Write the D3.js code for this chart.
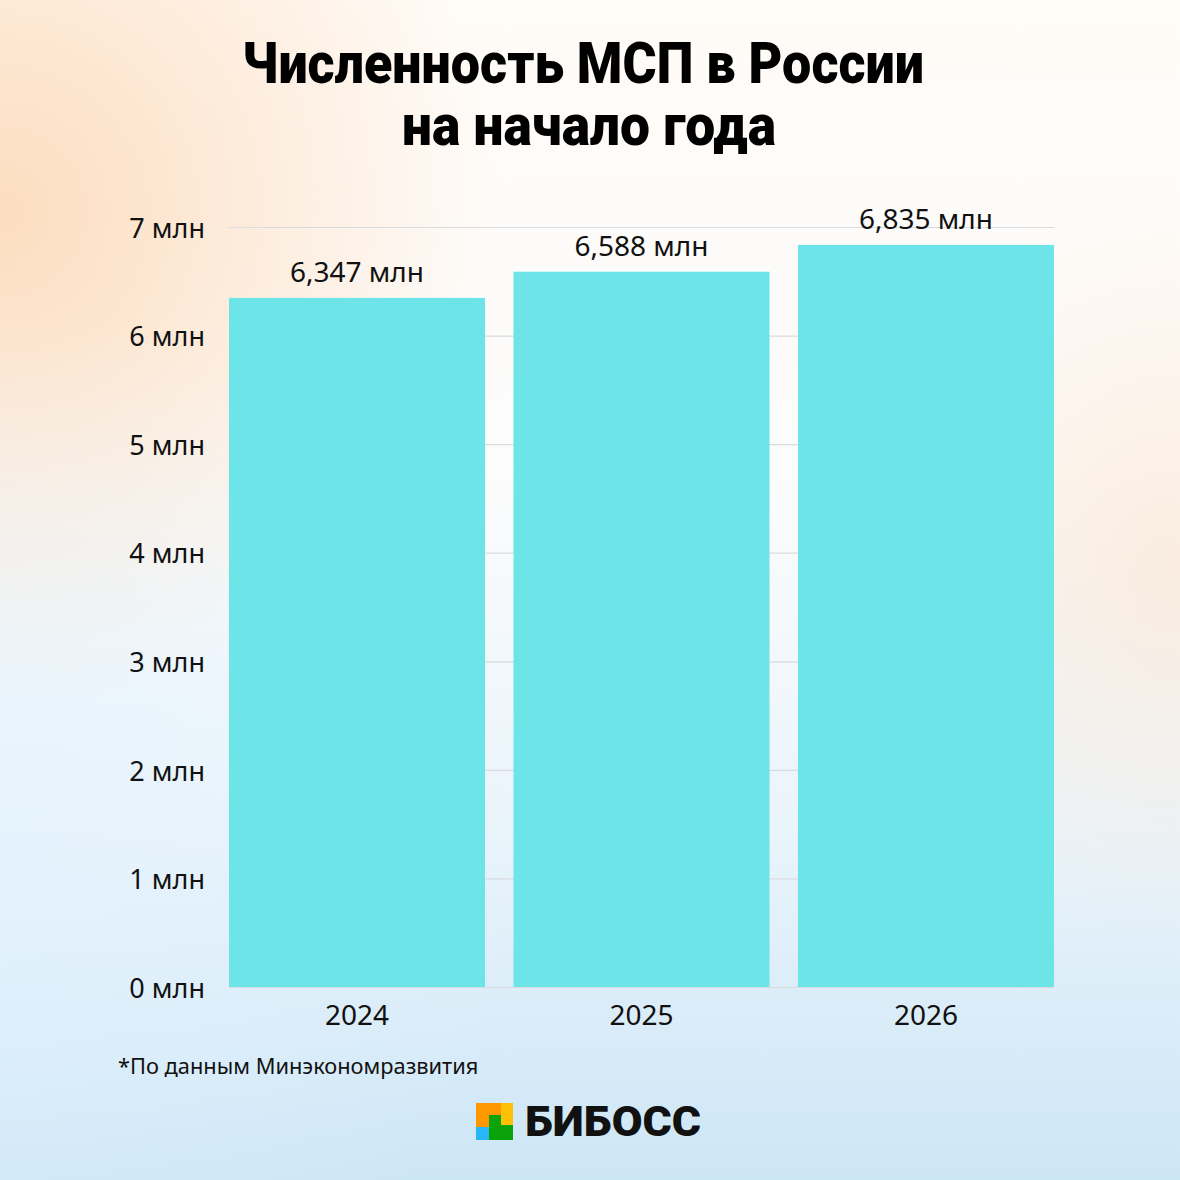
<!DOCTYPE html>
<html><head><meta charset="utf-8">
<script src="https://cdn.jsdelivr.net/npm/d3@7"></script>
<style>html,body{margin:0;padding:0;background:#fff;}svg{display:block;}</style>
</head><body>
<svg id="chart" width="1180" height="1180"></svg>
<script>
const years = ["2024", "2025", "2026"];
const values = [6.347, 6.588, 6.835];
const valueLabels = ["6,347 млн", "6,588 млн", "6,835 млн"];
const yTicks = [0, 1, 2, 3, 4, 5, 6, 7];
const titleLines = ["Численность МСП в России", "на начало года"];
const footnote = "*По данным Минэкономразвития";
const brand = "БИБОСС";

(function(){
const W = 1180, H = 1180;
const svg = d3.select("#chart");
const defs = svg.append("defs");

const lg = defs.append("linearGradient").attr("id","bg").attr("x1",0).attr("y1",0).attr("x2",0).attr("y2",1);
lg.append("stop").attr("offset","0%").attr("stop-color","#fffbf7");
lg.append("stop").attr("offset","40%").attr("stop-color","#fcfcfc");
lg.append("stop").attr("offset","70%").attr("stop-color","#eaf4fb");
lg.append("stop").attr("offset","100%").attr("stop-color","#cde6f6");
svg.append("rect").attr("width",W).attr("height",H).attr("fill","url(#bg)");

const rg = defs.append("radialGradient").attr("id","peach").attr("cx",0).attr("cy",0.18).attr("r",0.42);
rg.append("stop").attr("offset","0%").attr("stop-color","#fcd9b8").attr("stop-opacity",0.9);
rg.append("stop").attr("offset","100%").attr("stop-color","#fcd9b8").attr("stop-opacity",0);
svg.append("rect").attr("width",W).attr("height",H).attr("fill","url(#peach)");

const rg2 = defs.append("radialGradient").attr("id","peach2").attr("cx",1).attr("cy",0.48).attr("r",0.32);
rg2.append("stop").attr("offset","0%").attr("stop-color","#fbe3cc").attr("stop-opacity",0.6);
rg2.append("stop").attr("offset","100%").attr("stop-color","#fbe3cc").attr("stop-opacity",0);
svg.append("rect").attr("width",W).attr("height",H).attr("fill","url(#peach2)");

const rg3 = defs.append("radialGradient").attr("id","blue").attr("cx",0).attr("cy",0.72).attr("r",0.45);
rg3.append("stop").attr("offset","0%").attr("stop-color","#e2f2ff").attr("stop-opacity",0.6);
rg3.append("stop").attr("offset","100%").attr("stop-color","#e2f2ff").attr("stop-opacity",0);
svg.append("rect").attr("width",W).attr("height",H).attr("fill","url(#blue)");

// Title
const title = svg.append("g").attr("font-family","Roboto, 'Noto Sans', sans-serif").attr("font-weight",900).attr("fill","#000").attr("text-anchor","middle");
title.append("text").attr("x",583).attr("y",83).attr("font-size",58).attr("textLength",682).attr("lengthAdjust","spacingAndGlyphs").text(titleLines[0]);
title.append("text").attr("x",589).attr("y",145).attr("font-size",58).attr("textLength",374).attr("lengthAdjust","spacingAndGlyphs").text(titleLines[1]);

// Scales
const pLeft = 229, pRight = 1054, pTop = 227, pBottom = 987;
const x = d3.scaleBand().domain(years).range([pLeft, pRight]).paddingInner(0.1).paddingOuter(0);
const y = d3.scaleLinear().domain([0, 7]).range([pBottom, pTop]);

const font = "'Noto Sans', 'Open Sans', sans-serif";

// Grid
svg.append("g").selectAll("line").data(yTicks).join("line")
  .attr("x1", pLeft).attr("x2", pRight)
  .attr("y1", d => y(d) + 0.5).attr("y2", d => y(d) + 0.5)
  .attr("stroke", "#d9dcde").attr("stroke-width", 1.2);

// Y axis labels
const yAxis = svg.append("g").attr("transform", `translate(${pLeft},0)`)
  .call(d3.axisLeft(y).tickValues(yTicks).tickSize(0).tickPadding(24).tickFormat(d => d + " млн"));
yAxis.select(".domain").remove();
yAxis.selectAll("text").attr("font-family", font).attr("font-size", 27).attr("fill", "#111").attr("dy", "0.38em");

// Bars
svg.append("g").selectAll("rect").data(years).join("rect")
  .attr("x", d => x(d)).attr("width", x.bandwidth())
  .attr("y", (d, i) => y(values[i])).attr("height", (d, i) => y(0) - y(values[i]))
  .attr("fill", "#6ce4e8");

// Value labels
svg.append("g").selectAll("text").data(years).join("text")
  .attr("x", d => x(d) + x.bandwidth() / 2)
  .attr("y", (d, i) => y(values[i]) - 16)
  .attr("text-anchor", "middle").attr("font-family", font).attr("font-size", 28).attr("fill", "#111")
  .text((d, i) => valueLabels[i]);

// X axis
const xAxis = svg.append("g").attr("transform", `translate(0,${pBottom})`)
  .call(d3.axisBottom(x).tickSize(0).tickPadding(18));
xAxis.select(".domain").remove();
xAxis.selectAll("text").attr("font-family", font).attr("font-size", 28).attr("fill", "#111").attr("dy", "0.71em");

// Footnote
svg.append("text").attr("x", 118).attr("y", 1074).attr("font-family", font).attr("font-size", 21.8).attr("fill", "#111").text(footnote);

// Logo
const logo = svg.append("g");
logo.append("rect").attr("x",476).attr("y",1103).attr("width",25).attr("height",24).attr("fill","#ff9800");
logo.append("rect").attr("x",501).attr("y",1103).attr("width",12).attr("height",22).attr("fill","#ffc107");
logo.append("rect").attr("x",476).attr("y",1127).attr("width",13).attr("height",13).attr("fill","#29b6f6");
logo.append("path").attr("d","M489,1115 H501 V1125 H513 V1140 H489 Z").attr("fill","#0aa30a");
logo.append("text").attr("x",525).attr("y",1136).attr("font-family","Roboto, sans-serif").attr("font-weight",900)
  .attr("font-size",42).attr("textLength",176).attr("lengthAdjust","spacingAndGlyphs").attr("fill","#111").text(brand);
})();
</script>
</body></html>
